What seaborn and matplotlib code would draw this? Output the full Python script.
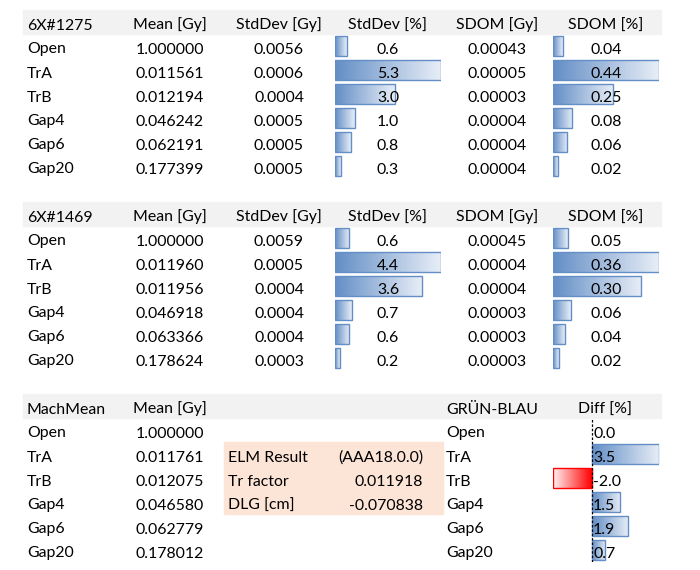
import numpy as np
import matplotlib.pyplot as plt
import seaborn as sns
from matplotlib.colors import LinearSegmentedColormap
from matplotlib.patches import Rectangle

# ── Data ──────────────────────────────────────────────────────────────────────
ROW_LABELS = ['Open', 'TrA', 'TrB', 'Gap4', 'Gap6', 'Gap20']
HEADERS = ['Mean [Gy]', 'StdDev [Gy]', 'StdDev [%]', 'SDOM [Gy]', 'SDOM [%]']

T1_NAME = '6X#1275'
T1_MEAN = [1.000000, 0.011561, 0.012194, 0.046242, 0.062191, 0.177399]
T1_SD_GY = [0.0056, 0.0006, 0.0004, 0.0005, 0.0005, 0.0005]
T1_SD_PCT = [0.6, 5.3, 3.0, 1.0, 0.8, 0.3]
T1_SDOM_GY = [0.00043, 0.00005, 0.00003, 0.00004, 0.00004, 0.00004]
T1_SDOM_PCT = [0.04, 0.44, 0.25, 0.08, 0.06, 0.02]

T2_NAME = '6X#1469'
T2_MEAN = [1.000000, 0.011960, 0.011956, 0.046918, 0.063366, 0.178624]
T2_SD_GY = [0.0059, 0.0005, 0.0004, 0.0004, 0.0004, 0.0003]
T2_SD_PCT = [0.6, 4.4, 3.6, 0.7, 0.6, 0.2]
T2_SDOM_GY = [0.00045, 0.00004, 0.00004, 0.00003, 0.00003, 0.00003]
T2_SDOM_PCT = [0.05, 0.36, 0.30, 0.06, 0.04, 0.02]

T3_NAME = 'MachMean'
T3_MEAN = [1.000000, 0.011761, 0.012075, 0.046580, 0.062779, 0.178012]
DIFF_NAME = 'GRÜN-BLAU'
DIFF_HEADER = 'Diff [%]'
DIFF_PCT = [0.0, 3.5, -2.0, 1.5, 1.9, 0.7]

ELM_LABELS = ['ELM Result', 'Tr factor', 'DLG [cm]']
ELM_VALUES = ['(AAA18.0.0)', '0.011918', '-0.070838']

# ── Layout (pixels) ───────────────────────────────────────────────────────────
W, H = 700, 570
ROW_H = 24
TOP0 = 10
BASE_OFF = 19.5
LABEL_X = 27
MEAN_X, SDGY_X, SDPCT_X, SDOMGY_X, SDOMPCT_X = 170, 279, 388, 497, 606
BAR1_X0, BAR2_X0, BAR_W = 335, 553, 106
GREY = '#F2F2F2'
PEACH = '#FCE4D6'
BLUE, BLUE_LIGHT = '#638EC6', '#E8EEF7'
RED, RED_LIGHT = '#FF0000', '#FFF2F2'
FONT = 11.4

sns.set_theme(style='white')
plt.rcParams['font.family'] = ['Lato', 'DejaVu Sans']


def row_top(r):
    return TOP0 + ROW_H * r


def px_axes(fig, x0, x1, y0, y1, z):
    ax = fig.add_axes([x0 / W, 1 - y1 / H, (x1 - x0) / W, (y1 - y0) / H])
    ax.set_zorder(z)
    ax.patch.set_alpha(0)
    return ax


def gradient_fill(ax):
    # Excel-style gradient data bars: solid at the axis, fading outwards
    for p in list(ax.patches):
        x, y, w, h = p.get_x(), p.get_y(), p.get_width(), p.get_height()
        if w == 0:
            p.set_visible(False)
            continue
        base, light = (BLUE, BLUE_LIGHT) if w > 0 else (RED, RED_LIGHT)
        cmap = LinearSegmentedColormap.from_list('g', [base, light])
        grad = np.linspace(0, 1, 256).reshape(1, -1)
        im = ax.imshow(grad, cmap=cmap, extent=[x, x + w, y + h, y],
                       aspect='auto', zorder=1, interpolation='bilinear')
        im.set_clip_path(p)
        p.set_facecolor('none')
        p.set_edgecolor(base)
        p.set_linewidth(1.0)
        p.set_zorder(2)


def bar_column(fig, x0, first_row, values, lims):
    ax = px_axes(fig, x0, x0 + BAR_W, row_top(first_row), row_top(first_row + 6), 1)
    sns.barplot(x=values, y=ROW_LABELS, orient='h', color=BLUE, width=0.81,
                errorbar=None, ax=ax)
    gradient_fill(ax)
    ax.set_xlim(*lims)
    ax.set_ylim(5.5, -0.5)
    ax.axis('off')
    return ax


fig = plt.figure(figsize=(7, 5.7), dpi=100)
fig.patch.set_facecolor('white')

tx = px_axes(fig, 0, W, 0, H, 5)
tx.set_xlim(0, W)
tx.set_ylim(H, 0)
tx.axis('off')


def put(x, r, s, ha='left'):
    tx.text(x, row_top(r) + BASE_OFF, s, ha=ha, va='baseline', fontsize=FONT,
            color='black')


def stat_table(hr, name, mean, sd_gy, sd_pct, sdom_gy, sdom_pct):
    tx.add_patch(Rectangle((23, row_top(hr)), 638, ROW_H, color=GREY, zorder=0))
    put(LABEL_X, hr, name)
    for x, s in zip([MEAN_X, SDGY_X, SDPCT_X, SDOMGY_X, SDOMPCT_X], HEADERS):
        put(x, hr, s, 'center')
    for i, lab in enumerate(ROW_LABELS):
        r = hr + 1 + i
        put(LABEL_X, r, lab)
        put(MEAN_X, r, f'{mean[i]:.6f}', 'center')
        put(SDGY_X, r, f'{sd_gy[i]:.4f}', 'center')
        put(SDPCT_X, r, f'{sd_pct[i]:.1f}', 'center')
        put(SDOMGY_X, r, f'{sdom_gy[i]:.5f}', 'center')
        put(SDOMPCT_X, r, f'{sdom_pct[i]:.2f}', 'center')
    bar_column(fig, BAR1_X0, hr + 1, sd_pct, (0, max(sd_pct)))
    bar_column(fig, BAR2_X0, hr + 1, sdom_pct, (0, max(sdom_pct)))


stat_table(0, T1_NAME, T1_MEAN, T1_SD_GY, T1_SD_PCT, T1_SDOM_GY, T1_SDOM_PCT)
stat_table(8, T2_NAME, T2_MEAN, T2_SD_GY, T2_SD_PCT, T2_SDOM_GY, T2_SDOM_PCT)

# ── Machine mean table + ELM block + diff column ─────────────────────────────
hr = 16
tx.add_patch(Rectangle((23, row_top(hr)), 638, ROW_H, color=GREY, zorder=0))
put(LABEL_X, hr, T3_NAME)
put(MEAN_X, hr, HEADERS[0], 'center')
put(446, hr, DIFF_NAME)
put(605, hr, DIFF_HEADER, 'center')
for i, lab in enumerate(ROW_LABELS):
    r = hr + 1 + i
    put(LABEL_X, r, lab)
    put(MEAN_X, r, f'{T3_MEAN[i]:.6f}', 'center')
    put(446, r, lab)
    put(593, r, f'{DIFF_PCT[i]:.1f}')

tx.add_patch(Rectangle((224, row_top(hr + 2)), 219, 3 * ROW_H, color=PEACH, zorder=0))
for j, (lab, val) in enumerate(zip(ELM_LABELS, ELM_VALUES)):
    put(228, hr + 2 + j, lab)
    put(423, hr + 2 + j, val, 'right')

dax = bar_column(fig, BAR2_X0, hr + 1, DIFF_PCT, (min(DIFF_PCT), max(DIFF_PCT)))
dax.axvline(0, color='black', lw=0.9, ls=(0, (2, 1.5)), zorder=5)

fig.savefig('out.png', dpi=100, facecolor='white')
